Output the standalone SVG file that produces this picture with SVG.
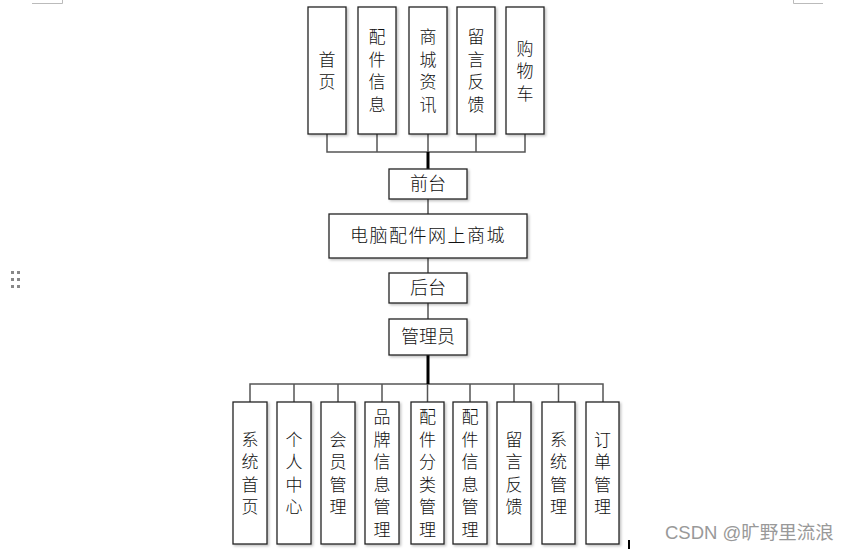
<svg xmlns="http://www.w3.org/2000/svg" width="851" height="551" viewBox="0 0 851 551">
<defs>
<filter id="sh" x="-20%" y="-20%" width="140%" height="140%">
<feDropShadow dx="1.5" dy="1.5" stdDeviation="1" flood-color="#000" flood-opacity="0.25"/>
</filter>
</defs>
<style>
.box{fill:#fff;stroke:#222;stroke-width:1.3;filter:url(#sh)}
.v{font-family:"Noto Sans CJK SC","Liberation Serif",serif;font-size:17px;fill:#111;text-anchor:middle;font-weight:300;writing-mode:vertical-rl;letter-spacing:5.5px}
.th{font-family:"Noto Sans CJK SC","Liberation Serif",serif;font-size:18px;fill:#111;text-anchor:middle;font-weight:300}
.ln{stroke:#555;stroke-width:1.5;fill:none}
.tr{stroke:#000;stroke-width:3;fill:none}
.mk{stroke:#bbb;stroke-width:1;fill:none}
</style>
<rect width="851" height="551" fill="#fff"/>
<path class="mk" d="M32 3.5H62.5V0M793.5 0V3.5H823"/>
<g fill="#888">
<rect x="11" y="271" width="3" height="3"/><rect x="17" y="271" width="3" height="3"/>
<rect x="11" y="278" width="3" height="3"/><rect x="17" y="278" width="3" height="3"/>
<rect x="11" y="285" width="3" height="3"/><rect x="17" y="285" width="3" height="3"/>
</g>
<g id="connectors">
<path class="ln" d="M327 134V152H525V134M377 134V152M476 134V152M428 134V152"/>
<path class="tr" d="M428 152V169"/>
<path class="ln" d="M428 199V214M428 258V273M428 303V319"/>
<path class="ln" d="M250 402V384H603V402M294 384V402M338 384V402M382 384V402M470 384V402M514 384V402M558.5 384V402M427.5 384V402"/>
<path class="tr" d="M428 355V384"/>
</g>
<g id="n-shouye"><rect class="box" x="308" y="7" width="38" height="127"/><text class="v" x="327" y="73.5">首页</text></g>
<g id="n-peijian"><rect class="box" x="358" y="7" width="38" height="127"/><text class="v" x="377" y="73.5">配件信息</text></g>
<g id="n-zixun"><rect class="box" x="409" y="7" width="38" height="127"/><text class="v" x="428" y="73.5">商城资讯</text></g>
<g id="n-liuyan"><rect class="box" x="457" y="7" width="38" height="127"/><text class="v" x="476" y="73.5">留言反馈</text></g>
<g id="n-gouwuche"><rect class="box" x="506" y="7" width="38" height="127"/><text class="v" x="525" y="73.5">购物车</text></g>
<g id="n-qiantai"><rect class="box" x="389" y="169" width="78" height="30"/><text class="th" x="428" y="190">前台</text></g>
<g id="n-main"><rect class="box" x="329" y="214" width="198" height="44"/><text class="th" x="428" y="242" style="letter-spacing:1.5px">电脑配件网上商城</text></g>
<g id="n-houtai"><rect class="box" x="389" y="273" width="78" height="30"/><text class="th" x="428" y="294">后台</text></g>
<g id="n-admin"><rect class="box" x="389" y="319" width="78" height="36"/><text class="th" x="428" y="343">管理员</text></g>
<g id="b-xtsy"><rect class="box" x="233" y="402" width="34" height="142"/><text class="v" x="250" y="476">系统首页</text></g>
<g id="b-grzx"><rect class="box" x="277" y="402" width="34" height="142"/><text class="v" x="294" y="476">个人中心</text></g>
<g id="b-hygl"><rect class="box" x="321" y="402" width="34" height="142"/><text class="v" x="338" y="476">会员管理</text></g>
<g id="b-ppxx"><rect class="box" x="365" y="402" width="34" height="142"/><text class="v" x="382" y="476">品牌信息管理</text></g>
<g id="b-pjfl"><rect class="box" x="411" y="402" width="33" height="142"/><text class="v" x="427.5" y="476">配件分类管理</text></g>
<g id="b-pjxx"><rect class="box" x="453" y="402" width="34" height="142"/><text class="v" x="470" y="476">配件信息管理</text></g>
<g id="b-lyfk"><rect class="box" x="497" y="402" width="34" height="142"/><text class="v" x="514" y="476">留言反馈</text></g>
<g id="b-xtgl"><rect class="box" x="542" y="402" width="33" height="142"/><text class="v" x="558.5" y="476">系统管理</text></g>
<g id="b-ddgl"><rect class="box" x="586" y="402" width="33" height="142"/><text class="v" x="602.5" y="476">订单管理</text></g>
<rect x="628" y="540" width="2" height="9" fill="#000"/>
<text x="665" y="539" font-family="'Liberation Sans','Noto Sans CJK SC',sans-serif" font-size="18.5" fill="#999">CSDN @旷野里流浪</text>
</svg>
